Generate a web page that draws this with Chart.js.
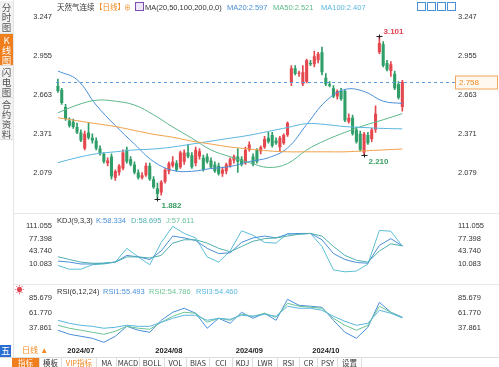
<!DOCTYPE html>
<html lang="zh">
<head>
<meta charset="utf-8">
<title>天然气连续 日线</title>
<script src="https://cdn.jsdelivr.net/npm/chart.js@4.4.1/dist/chart.umd.min.js"></script>
<style>
  body { margin: 0; background: #fff; font-family: "Liberation Sans", "Noto Sans CJK SC", sans-serif; }
  #wrap { position: relative; width: 499px; height: 367px; overflow: hidden; background: #fff; }
  canvas { position: absolute; left: 0; }
  .t { position: absolute; font-size: 7.5px; line-height: 9px; white-space: nowrap; color: #333; }
  .tab { position: absolute; left: 0; width: 13px; font-size: 9.5px; line-height: 10px; text-align: center; background: #f2f2f2; color: #555; border-bottom: 1px solid #ddd; font-family: "Noto Sans CJK SC", sans-serif; }
  .tab.on { background: #f07e1c; color: #fff; }
  .hl { position: absolute; left: 13px; right: 0; height: 1px; background: #e8e8e8; }
  .vl { position: absolute; left: 13px; top: 0; width: 1px; height: 357px; background: #e4e4e4; }
  .ico { position: absolute; top: 2px; width: 7px; height: 7px; border: 1px solid #4a8fd6; }
  #bar { position: absolute; left: 0; top: 357px; width: 499px; height: 14px; border-top: 1px solid #ddd; }
  #bar span { position: absolute; top: 0; height: 13px; font-size: 7.5px; line-height: 10px; text-align: center; color: #333; border-right: 1px solid #ddd; font-family: "Noto Sans CJK SC", sans-serif; }
</style>
</head>
<body>
<div id="wrap">
  <canvas id="main" width="499" height="212" style="top:0"></canvas>
  <canvas id="kdj" width="499" height="70" style="top:212px"></canvas>
  <canvas id="rsi" width="499" height="73" style="top:284px"></canvas>

  <div class="vl"></div>
  <div class="hl" style="top:213px"></div>
  <div class="hl" style="top:284px"></div>

  <!-- left side tabs -->
  <div class="tab" style="top:1px;height:31px;padding-top:1px">分<br>时<br>图</div>
  <div class="tab on" style="top:34px;height:30px;padding-top:1px">K<br>线<br>图</div>
  <div class="tab" style="top:66px;height:30px;padding-top:1px">闪<br>电<br>图</div>
  <div class="tab" style="top:98px;height:40px;padding-top:1px">合<br>约<br>资<br>料</div>

  <!-- header -->
  <span class="t" style="left:57px;top:3px">天然气连续</span>
  <span class="t" style="left:95px;top:3px;color:#f08a24">【日线】</span>
  <span class="t" style="left:124px;top:3px;color:#f08a24;font-size:7px">⊕</span>
  <span class="t" style="left:135px;top:2px;width:7px;height:7px;border:1px solid #7a4fb0;background:#efe6fa"></span>
  <span class="t" style="left:145px;top:3px">MA(20,50,100,200,0,0)</span>
  <span class="t" style="left:227px;top:3px;color:#4a8fd8">MA20:2.597</span>
  <span class="t" style="left:273px;top:3px;color:#5cb88a">MA50:2.521</span>
  <span class="t" style="left:321px;top:3px;color:#5ab6de">MA100:2.407</span>
  <span class="ico" style="left:417px"></span>
  <span class="ico" style="left:427px"></span>
  <span class="ico" style="left:437px"></span>
  <span class="ico" style="left:447px"></span>

  <!-- KDJ title -->
  <span class="t" style="left:57px;top:216px">KDJ(9,3,3)</span>
  <span class="t" style="left:96px;top:216px;color:#4a8fd8">K:58.334</span>
  <span class="t" style="left:131px;top:216px;color:#4fb0ae">D:58.695</span>
  <span class="t" style="left:166px;top:216px;color:#6cc49a">J:57.611</span>

  <!-- RSI title -->
  <span class="t" style="left:15px;top:286px;color:#e0454f;font-size:9px">☀</span>
  <span class="t" style="left:57px;top:287px">RSI(6,12,24)</span>
  <span class="t" style="left:103px;top:287px;color:#4a8fd8">RSI1:55.493</span>
  <span class="t" style="left:149px;top:287px;color:#6cc495">RSI2:54.786</span>
  <span class="t" style="left:196px;top:287px;color:#5ab6de">RSI3:54.460</span>

  <span class="t" style="left:0;top:345px;width:11px;height:13px;background:#2a6ed0;color:#fff;font-size:9px;line-height:13px;text-align:center">五</span>
  <span class="t" style="left:22px;top:346px;color:#f08a24;font-size:8px">日线 ▲</span>

  <!-- bottom toolbar -->
  <div id="bar">
    <span style="left:0;width:11px;border-right:none"></span>
    <span style="left:12px;width:27px;background:#f07e1c;color:#fff">指标</span>
    <span style="left:40px;width:21px">模板</span>
    <span style="left:62px;width:34px;color:#f08a24">VIP指标</span>
    <span style="left:97px;width:19px">MA</span>
    <span style="left:117px;width:22px">MACD</span>
    <span style="left:140px;width:24px">BOLL</span>
    <span style="left:165px;width:21px">VOL</span>
    <span style="left:187px;width:22px">BIAS</span>
    <span style="left:210px;width:22px">CCI</span>
    <span style="left:233px;width:19px">KDJ</span>
    <span style="left:253px;width:24px">LWR</span>
    <span style="left:278px;width:21px">RSI</span>
    <span style="left:300px;width:17px">CR</span>
    <span style="left:318px;width:19px">PSY</span>
    <span style="left:338px;width:23px">设置</span>
  </div>
</div>

<script>
// daily candles (red = up, green = down)
const opens  = [2.73, 2.70, 2.57, 2.47, 2.46, 2.42, 2.38, 2.26, 2.38, 2.34, 2.32, 2.26, 2.22, 2.15, 2.20, 2.04, 2.08, 2.11, 2.25, 2.18,
                2.14, 2.08, 2.04, 2.06, 2.13, 2.03, 1.96, 1.93, 2.01, 2.09, 2.13, 2.15, 2.12, 2.16, 2.23, 2.21, 2.15, 2.20, 2.19, 2.20,
                2.17, 2.14, 2.13, 2.07, 2.09, 2.13, 2.17, 2.20, 2.18, 2.15, 2.25, 2.20, 2.25, 2.24, 2.27, 2.34, 2.36, 2.32, 2.27, 2.30,
                2.36, 2.75, 2.86, 2.82, 2.74, 2.76, 2.90, 2.89, 2.92, 2.98, 2.79, 2.74, 2.71, 2.65, 2.69, 2.69, 2.46, 2.49, 2.40, 2.37,
                2.23, 2.36, 2.33, 2.40, 2.98, 3.04, 2.90, 2.84, 2.82, 2.74, 2.57];
const highs  = [2.78, 2.71, 2.59, 2.49, 2.48, 2.45, 2.40, 2.39, 2.45, 2.37, 2.34, 2.28, 2.23, 2.19, 2.22, 2.10, 2.14, 2.25, 2.27, 2.20,
                2.16, 2.10, 2.08, 2.15, 2.15, 2.05, 2.00, 2.02, 2.11, 2.16, 2.20, 2.17, 2.24, 2.25, 2.29, 2.23, 2.27, 2.26, 2.21, 2.22,
                2.19, 2.16, 2.15, 2.12, 2.15, 2.19, 2.21, 2.26, 2.20, 2.27, 2.31, 2.22, 2.26, 2.28, 2.35, 2.38, 2.38, 2.34, 2.35, 2.37,
                2.46, 2.88, 2.88, 2.84, 2.88, 2.93, 2.92, 2.99, 2.98, 3.02, 2.82, 2.76, 2.73, 2.70, 2.71, 2.70, 2.52, 2.51, 2.42, 2.39,
                2.38, 2.38, 2.41, 2.58, 3.101, 3.06, 2.92, 2.91, 2.84, 2.76, 2.77];
const lows   = [2.68, 2.59, 2.47, 2.42, 2.41, 2.37, 2.31, 2.25, 2.33, 2.30, 2.25, 2.21, 2.15, 2.13, 2.03, 2.02, 2.06, 2.10, 2.15, 2.13,
                2.07, 2.03, 2.03, 2.05, 2.02, 1.96, 1.882, 1.91, 2.00, 2.07, 2.12, 2.09, 2.11, 2.14, 2.19, 2.11, 2.13, 2.18, 2.09, 2.15,
                2.11, 2.08, 2.06, 2.05, 2.07, 2.12, 2.15, 2.08, 2.13, 2.14, 2.24, 2.13, 2.15, 2.22, 2.26, 2.30, 2.27, 2.29, 2.24, 2.29,
                2.35, 2.73, 2.81, 2.80, 2.73, 2.75, 2.88, 2.87, 2.90, 2.81, 2.73, 2.72, 2.64, 2.63, 2.62, 2.46, 2.45, 2.36, 2.30, 2.24,
                2.210, 2.29, 2.31, 2.38, 2.97, 2.87, 2.84, 2.80, 2.70, 2.63, 2.54];
const closes = [2.69, 2.60, 2.48, 2.43, 2.42, 2.38, 2.32, 2.37, 2.34, 2.32, 2.26, 2.22, 2.16, 2.17, 2.05, 2.09, 2.13, 2.23, 2.16, 2.14,
                2.08, 2.04, 2.06, 2.13, 2.03, 1.97, 1.92, 2.01, 2.10, 2.15, 2.16, 2.10, 2.23, 2.23, 2.20, 2.12, 2.25, 2.24, 2.10, 2.16,
                2.12, 2.09, 2.07, 2.10, 2.14, 2.18, 2.20, 2.16, 2.14, 2.25, 2.29, 2.14, 2.16, 2.27, 2.33, 2.31, 2.28, 2.30, 2.34, 2.36,
                2.45, 2.86, 2.82, 2.825, 2.83, 2.92, 2.89, 2.95, 2.97, 2.83, 2.74, 2.73, 2.65, 2.69, 2.63, 2.47, 2.49, 2.37, 2.31, 2.25,
                2.37, 2.30, 2.40, 2.52, 3.05, 2.88, 2.85, 2.89, 2.71, 2.64, 2.758];

const monthLabels = ['2024/07', '2024/08', '2024/09', '2024/10'];
const monthStarts = [6, 29, 50, 70];

const priceTicks = [3.247, 2.955, 2.663, 2.371, 2.079];
const kdjTicks = [111.055, 77.398, 43.740, 10.083];
const rsiTicks = [85.679, 61.770, 37.861];

// moving averages, sampled every 5th candle
const maIdx  = [0, 5, 10, 15, 20, 25, 30, 35, 40, 45, 50, 55, 60, 65, 70, 75, 80, 85, 90];
const ma20   = [2.840, 2.775, 2.585, 2.432, 2.293, 2.162, 2.096, 2.089, 2.110, 2.125, 2.162, 2.191, 2.264, 2.439, 2.614, 2.702, 2.687, 2.614, 2.597];
const ma50   = [2.527, 2.585, 2.621, 2.614, 2.585, 2.512, 2.421, 2.337, 2.249, 2.198, 2.154, 2.118, 2.147, 2.249, 2.322, 2.380, 2.432, 2.475, 2.521];
const ma100  = [2.154, 2.191, 2.220, 2.235, 2.249, 2.256, 2.271, 2.293, 2.315, 2.337, 2.359, 2.388, 2.417, 2.446, 2.439, 2.424, 2.417, 2.410, 2.407];
const ma200  = [2.490, 2.468, 2.446, 2.424, 2.395, 2.366, 2.344, 2.315, 2.293, 2.271, 2.256, 2.242, 2.235, 2.235, 2.235, 2.235, 2.242, 2.249, 2.256];

// oscillators, sampled every 3rd candle
const oscIdx = [0, 3, 6, 9, 12, 15, 18, 21, 24, 27, 30, 33, 36, 39, 42, 45, 48, 51, 54, 57, 60, 63, 66, 69, 72, 75, 78, 81, 84, 87, 90];
const kdjK = [17.8, 15, 10, 10, 12, 15, 33, 29, 22, 45, 85, 80, 73, 52, 38, 40, 68, 80, 85, 80, 90, 92, 92, 75, 38, 22, 14, 12, 60, 78, 58.334];
const kdjD = [29.5, 22, 15, 12, 12, 15, 29, 29, 26, 33, 66, 75, 75, 66, 52, 43, 57, 71, 78, 80, 85, 90, 92, 85, 57, 33, 20, 15, 45, 64, 58.695];
const kdjJ = [6, -4, -4, 8, 10, 15, 52, 29, 8, 68, 111, 92, 80, 29, 15, 45, 99, 87, 68, 66, 92, 90, 92, 57, -6, -11, -9, 10, 100, 98, 57.611];
const rsi1 = [34.7, 28.3, 25.1, 21.9, 15.5, 25.1, 41, 34.7, 31.5, 50.6, 63.4, 69.8, 61.8, 37.9, 53.8, 45.8, 63.4, 53.8, 61.8, 50.6, 84.1, 74.5, 73, 71.4, 50.6, 31.5, 21.9, 39.5, 79.3, 63.4, 55.493];
const rsi2 = [42.6, 37.9, 34.7, 31.5, 28.3, 33.1, 41, 37.9, 36.3, 47.4, 57, 63.4, 61.8, 47.4, 53.8, 50.6, 60.2, 57, 61.8, 55.4, 77.7, 73, 71.4, 69.8, 53.8, 42.6, 34.7, 42.6, 73, 63.4, 54.786];
const rsi3 = [50.6, 45.8, 42.6, 41, 37.9, 39.5, 42.6, 41, 41, 47.4, 53.8, 58.6, 58.6, 50.6, 53.8, 52.2, 58.6, 57, 60.2, 57, 73, 69.8, 69.8, 66.6, 57, 49, 42.6, 45.8, 66.6, 61.8, 54.46];

const lastPrice = 2.758;
const marks = [
    { i: 84, v: 3.101, up: true },
    { i: 26, v: 1.882 },
    { i: 80, v: 2.210 }
];

const FONT = '"Liberation Sans", "Noto Sans CJK SC", sans-serif';
const UP = '#e5474f', DOWN = '#2f9e68';
const C1 = '#4a8fd8', C2 = '#5cb88a', C3 = '#5ab6de';

// empty slots on the right of the last candle
const EMPTY = 13;
const total = closes.length + EMPTY;
const labels = [];
for (let i = 0; i < total; i++) {
    const m = monthStarts.indexOf(i);
    labels.push(m >= 0 ? monthLabels[m] : '');
}

function spread(idx, vals) {
    const out = new Array(closes.length).fill(null);
    idx.forEach((k, j) => { out[k] = vals[j]; });
    return out;
}

function line(data, color) {
    return {
        type: 'line', data: data, borderColor: color, borderWidth: 1,
        pointRadius: 0, spanGaps: true, tension: 0, order: 0
    };
}

function yAxis(pos, min, max, ticks, width) {
    return {
        position: pos, min: min, max: max,
        grid: { display: false, drawTicks: false },
        border: { display: false },
        afterBuildTicks: s => { s.ticks = ticks.map(v => ({ value: v })); },
        afterFit: s => { s.width = width; },
        ticks: { color: '#333', padding: 4, font: { size: 7.5, family: FONT }, callback: v => v.toFixed(3) }
    };
}

const hiddenX = { display: false, offset: true, grid: { display: false } };
const LEFT_W = 56, RIGHT_W = 45;

const baseOpts = {
    responsive: false,
    animation: false,
    devicePixelRatio: 1,
    plugins: { legend: { display: false }, tooltip: { enabled: false } }
};

const candleColors = closes.map((c, i) => c >= opens[i] ? UP : DOWN);

// dashed last price line, price box and high/low marks
const priceMarks = {
    id: 'priceMarks',
    afterDatasetsDraw(chart) {
        const { ctx, chartArea: a, scales: { x, y } } = chart;
        const py = Math.round(y.getPixelForValue(lastPrice)) + 0.5;
        ctx.save();
        ctx.lineWidth = 1;
        ctx.strokeStyle = '#5b9bd8';
        ctx.setLineDash([3, 3]);
        ctx.beginPath();
        ctx.moveTo(a.left, py);
        ctx.lineTo(a.right + 1, py);
        ctx.stroke();
        ctx.setLineDash([]);

        ctx.fillStyle = '#fff8f0';
        ctx.fillRect(a.right + 1.5, py - 6.5, 42, 13);
        ctx.strokeStyle = '#f2a65a';
        ctx.strokeRect(a.right + 1.5, py - 6.5, 42, 13);
        ctx.fillStyle = '#f08a24';
        ctx.font = '8px ' + FONT;
        ctx.textBaseline = 'middle';
        ctx.fillText(lastPrice.toFixed(3), a.right + 5, py + 0.5);

        marks.forEach(m => {
            const mx = Math.round(x.getPixelForValue(m.i)) + 0.5;
            const my = Math.round(y.getPixelForValue(m.v)) + 0.5;
            ctx.strokeStyle = '#222';
            ctx.beginPath();
            ctx.moveTo(mx - 3, my); ctx.lineTo(mx + 3, my);
            ctx.moveTo(mx, my - 2); ctx.lineTo(mx, my + 2);
            ctx.stroke();
            ctx.fillStyle = m.up ? '#e0404c' : '#3a9c62';
            ctx.font = 'bold 8px ' + FONT;
            ctx.fillText(m.v.toFixed(3), mx + 4, m.up ? my - 5 : my + 6);
        });
        ctx.restore();
    }
};

new Chart(document.getElementById('main'), {
    data: {
        labels: labels,
        datasets: [
            {
                type: 'bar', data: lows.map((l, i) => [l, highs[i]]),
                backgroundColor: candleColors, barThickness: 1, grouped: false, order: 2
            },
            {
                type: 'bar', data: opens.map((o, i) => [o, closes[i]]),
                backgroundColor: candleColors, barPercentage: 0.8, categoryPercentage: 1,
                grouped: false, minBarLength: 1, order: 1
            },
            Object.assign(line(spread(maIdx, ma200), '#f0a04b'), { tension: 0.4 }),
            Object.assign(line(spread(maIdx, ma100), C3), { tension: 0.4 }),
            Object.assign(line(spread(maIdx, ma50), C2), { tension: 0.4 }),
            Object.assign(line(spread(maIdx, ma20), C1), { tension: 0.4 })
        ]
    },
    options: Object.assign({}, baseOpts, {
        layout: { padding: { top: 5, bottom: 7, left: 0, right: 0 } },
        scales: {
            x: hiddenX,
            y: yAxis('left', 1.848, 3.308, priceTicks, LEFT_W),
            yr: yAxis('right', 1.848, 3.308, priceTicks, RIGHT_W)
        }
    }),
    plugins: [priceMarks]
});

new Chart(document.getElementById('kdj'), {
    type: 'line',
    data: {
        labels: labels,
        datasets: [
            line(spread(oscIdx, kdjD), '#4fb0ae'),
            line(spread(oscIdx, kdjK), C1),
            line(spread(oscIdx, kdjJ), '#5cbfd6')
        ]
    },
    options: Object.assign({}, baseOpts, {
        layout: { padding: { top: 12, bottom: 1, left: 0, right: 0 } },
        scales: {
            x: hiddenX,
            y: yAxis('left', -15.57, 117.35, kdjTicks, LEFT_W),
            yr: yAxis('right', -15.57, 117.35, kdjTicks, RIGHT_W)
        }
    })
});

new Chart(document.getElementById('rsi'), {
    type: 'line',
    data: {
        labels: labels,
        datasets: [
            line(spread(oscIdx, rsi3), C3),
            line(spread(oscIdx, rsi2), '#6cc495'),
            line(spread(oscIdx, rsi1), C1)
        ]
    },
    options: Object.assign({}, baseOpts, {
        layout: { padding: { top: 10, bottom: 0, left: 0, right: 0 } },
        scales: {
            x: {
                offset: true,
                grid: { display: false, drawTicks: false },
                border: { display: false },
                afterFit: s => { s.height = 13; },
                ticks: {
                    autoSkip: false, maxRotation: 0, padding: 2, color: '#222',
                    font: { size: 7.5, weight: 'bold', family: FONT },
                    callback: (v, i) => labels[i]
                }
            },
            y: yAxis('left', 12.79, 92.54, rsiTicks, LEFT_W),
            yr: yAxis('right', 12.79, 92.54, rsiTicks, RIGHT_W)
        }
    })
});
</script>
</body>
</html>
